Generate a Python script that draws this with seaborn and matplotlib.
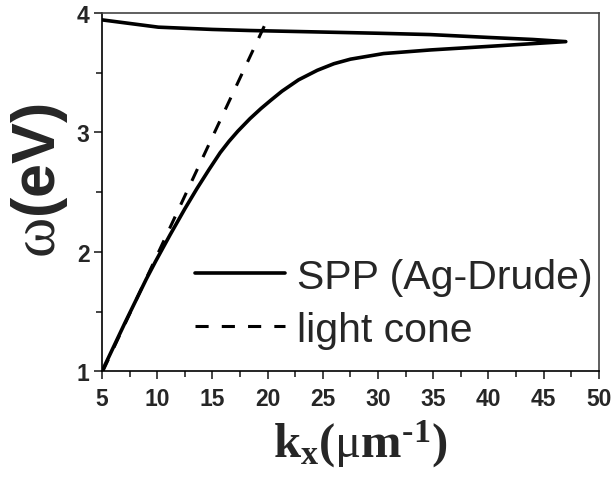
import matplotlib
matplotlib.use("Agg")
import matplotlib.pyplot as plt
from matplotlib.ticker import MultipleLocator
import seaborn as sns
import pandas as pd

# Surface plasmon polariton dispersion (Drude silver): lower branch out to the turning
# point, then the back-bending upper branch returning to small k
spp_k = [5.0, 7.1, 9.0, 9.85, 11.15, 12.5, 13.6, 14.7, 15.7, 16.5, 17.3, 18.4, 19.4,
         20.3, 21.3, 22.8, 24.5, 26.0, 27.5, 30.5, 34.7, 40.0, 44.0, 47.0,
         44.0, 40.0, 34.7, 30.0, 25.0, 18.4, 15.0, 10.1, 5.0]
spp_omega = [1.0, 1.41, 1.77, 1.92, 2.14, 2.36, 2.53, 2.69, 2.83, 2.925, 3.01, 3.115, 3.20,
             3.27, 3.345, 3.44, 3.52, 3.575, 3.613, 3.66, 3.69, 3.72, 3.743, 3.76,
             3.778, 3.795, 3.819, 3.83, 3.84, 3.853, 3.862, 3.881, 3.942]

# Light line in air
light_k = [5.07, 19.8]
light_omega = [1.0, 3.91]

spp = pd.DataFrame({"k": spp_k, "omega": spp_omega})
light = pd.DataFrame({"k": light_k, "omega": light_omega})

sns.set_style("ticks")
plt.rcParams["font.family"] = ["Liberation Sans", "DejaVu Sans"]
plt.rcParams["mathtext.fontset"] = "custom"
plt.rcParams["mathtext.rm"] = "Liberation Serif"
plt.rcParams["mathtext.it"] = "Liberation Serif:italic"
plt.rcParams["mathtext.bf"] = "Liberation Serif:bold"

fig = plt.figure(figsize=(6.13, 4.81), dpi=100)
ax = fig.add_axes([0.1664, 0.226, 0.8106, 0.745])

sns.lineplot(data=spp, x="k", y="omega", sort=False, estimator=None, color="black",
             lw=2.6, label="SPP (Ag-Drude)", ax=ax)
sns.lineplot(data=light, x="k", y="omega", sort=False, estimator=None, color="black",
             lw=2.2, linestyle=(0, (4.3, 4.3)), label="light cone", ax=ax)

ax.set_xlim(5, 50)
ax.set_ylim(1, 4)
ax.xaxis.set_major_locator(MultipleLocator(5))
ax.xaxis.set_minor_locator(MultipleLocator(2.5))
ax.yaxis.set_major_locator(MultipleLocator(1))
ax.yaxis.set_minor_locator(MultipleLocator(0.5))

for side in ["top", "right", "left", "bottom"]:
    ax.spines[side].set_linewidth(1.2)
    ax.spines[side].set_color("black")
ax.spines["top"].set_color("#444444")
ax.spines["right"].set_color("#444444")

ax.tick_params(which="major", direction="out", length=6, width=1.2, pad=3,
               top=False, right=False)
ax.tick_params(which="minor", direction="out", length=4, width=1.2,
               top=False, right=False)
ax.tick_params(axis="x", which="major", pad=5)
for lab in ax.get_xticklabels() + ax.get_yticklabels():
    lab.set_fontsize(16.5)
    lab.set_fontweight("bold")

ax.set_xlabel(r"$\mathbf{k_x(}\mathrm{\mu}\mathbf{m^{\text{-}1})}$", fontsize=35)
ax.xaxis.set_label_coords(0.519, -0.13)
ax.set_ylabel(r"$\mathrm{\omega}$(eV)", fontsize=44, fontweight="bold")
ax.yaxis.set_label_coords(-0.064, 0.535)

leg = ax.legend(loc="center left", bbox_to_anchor=(0.187, 0.19), frameon=False,
                fontsize=29.5, handlelength=2.2, handletextpad=0.3,
                labelspacing=0.37, borderpad=0, borderaxespad=0)

fig.savefig("out.png", dpi=100)
